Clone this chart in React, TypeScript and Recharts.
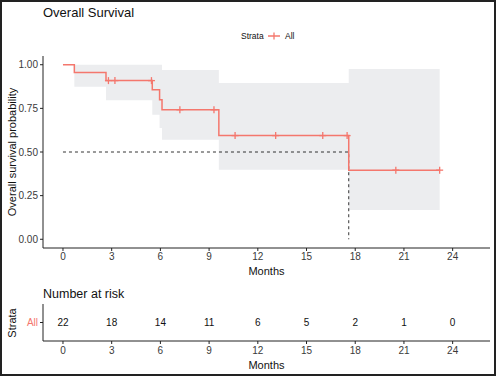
import React from 'react';
import { ComposedChart, Line, Area, Scatter, XAxis, YAxis } from 'recharts';

// Kaplan-Meier steps (months, survival)
const stepTimes = [0, 0.7, 2.65, 5.5, 5.95, 6.1, 9.6, 17.6, 23.2];
const survProb = [1, 0.955, 0.909, 0.857, 0.8, 0.742, 0.594, 0.396, 0.396];
const ciLower = [null, 0.874, 0.797, 0.713, 0.637, 0.57, 0.398, 0.168, 0.168];
const ciUpper = [null, 1, 1, 1, 1, 0.97, 0.895, 0.975, 0.975];
const censorTimes = [2.8, 3.2, 5.45, 7.2, 9.3, 10.6, 13.1, 16.0, 17.5, 20.5, 23.2];
const medianTime = 17.6;

const monthTicks = [0, 3, 6, 9, 12, 15, 18, 21, 24];
const riskCounts = [22, 18, 14, 11, 6, 5, 2, 1, 0];
const probTicks = [0, 0.25, 0.5, 0.75, 1];

const RED = '#F4776D';
const FONT = '"Liberation Sans", Arial, sans-serif';
const X_DOMAIN: [number, number] = [-1.23, 26.3];

const survAt = (t: number) => {
  let s = survProb[0];
  stepTimes.forEach((st, i) => {
    if (st <= t) s = survProb[i];
  });
  return s;
};

const curveData = stepTimes.map((t, i) => ({
  t,
  surv: survProb[i],
  ci: ciLower[i] == null ? null : [ciLower[i], ciUpper[i]],
}));
const censorData = censorTimes.map((t) => ({ t, surv: survAt(t) }));
const medianData = [
  { t: 0, m: 0.5 },
  { t: medianTime, m: 0.5 },
  { t: medianTime, m: 0 },
];
const riskData = monthTicks.map((t, i) => ({ t, row: 1, n: riskCounts[i] }));

const Plus = (props: any) => {
  const { cx, cy } = props;
  if (cx == null || cy == null) return null;
  return (
    <g stroke={RED} strokeWidth={1.3}>
      <line x1={cx - 3.5} x2={cx + 3.5} y1={cy} y2={cy} />
      <line x1={cx} x2={cx} y1={cy - 3.5} y2={cy + 3.5} />
    </g>
  );
};

const RiskText = (props: any) => {
  const { cx, cy, payload } = props;
  return (
    <text x={cx} y={cy} dy="0.35em" textAnchor="middle" fontSize={10} fill="#111" fontFamily={FONT}>
      {payload.n}
    </text>
  );
};

const tickStyle = { fontSize: 10, fill: '#3a3a3a', fontFamily: FONT };

export default function App() {
  return (
    <div style={{ position: 'absolute', left: 0, top: 0, width: 496, height: 376, background: '#fff' }}>
      <div style={{ position: 'absolute', left: 0, top: 0 }}>
        <ComposedChart width={496} height={280} data={curveData} margin={{ top: 56, right: 6, left: 0, bottom: 0 }}>
          <XAxis
            dataKey="t"
            type="number"
            domain={X_DOMAIN}
            ticks={monthTicks}
            allowDataOverflow
            height={32}
            stroke="#222"
            tickSize={3}
            tickMargin={2}
            tick={tickStyle}
          />
          <YAxis
            type="number"
            domain={[-0.05, 1.05]}
            ticks={probTicks}
            allowDataOverflow
            width={43}
            stroke="#222"
            tickSize={3}
            tickMargin={2}
            tick={tickStyle}
            tickFormatter={(v: number) => v.toFixed(2)}
          />
          <Area
            type="stepAfter"
            dataKey="ci"
            stroke="none"
            fill="#ECEDEF"
            fillOpacity={1}
            isAnimationActive={false}
          />
          <Line
            data={medianData}
            dataKey="m"
            type="linear"
            stroke="#000"
            strokeWidth={0.8}
            strokeDasharray="3 3"
            dot={false}
            activeDot={false}
            isAnimationActive={false}
          />
          <Line
            type="stepAfter"
            dataKey="surv"
            stroke={RED}
            strokeWidth={1.5}
            dot={false}
            activeDot={false}
            isAnimationActive={false}
          />
          <Scatter data={censorData} dataKey="surv" shape={<Plus />} isAnimationActive={false} />
        </ComposedChart>
      </div>

      <div style={{ position: 'absolute', left: 0, top: 296 }}>
        <ComposedChart width={496} height={80} data={riskData} margin={{ top: 8, right: 6, left: 0, bottom: 0 }}>
          <XAxis
            dataKey="t"
            type="number"
            domain={X_DOMAIN}
            ticks={monthTicks}
            allowDataOverflow
            height={35}
            stroke="#222"
            tickSize={3}
            tickMargin={3}
            tick={tickStyle}
          />
          <YAxis
            type="number"
            domain={[0, 2]}
            ticks={[1]}
            width={43}
            stroke="#222"
            tickSize={3}
            tickMargin={2}
            tick={{ ...tickStyle, fill: RED }}
            tickFormatter={() => 'All'}
          />
          <Scatter dataKey="row" shape={<RiskText />} isAnimationActive={false} />
        </ComposedChart>
      </div>

      <svg
        width={496}
        height={376}
        style={{ position: 'absolute', left: 0, top: 0, pointerEvents: 'none' }}
        fontFamily={FONT}
      >
        <text x={43} y={17} fontSize={13} fill="#111">Overall Survival</text>
        <text x={241} y={39} fontSize={8.5} fill="#111">Strata</text>
        <line x1={268} x2={280} y1={36} y2={36} stroke={RED} strokeWidth={1.5} />
        <line x1={274} x2={274} y1={32.5} y2={39.5} stroke={RED} strokeWidth={1.3} />
        <text x={285} y={39} fontSize={8.5} fill="#111">All</text>
        <text transform="translate(16,152) rotate(-90)" textAnchor="middle" fontSize={11} fill="#111">
          Overall survival probability
        </text>
        <text x={266.5} y={275} textAnchor="middle" fontSize={11} fill="#111">Months</text>
        <text x={43} y={297.5} fontSize={12.5} fill="#111">Number at risk</text>
        <text transform="translate(15.5,323) rotate(-90)" textAnchor="middle" fontSize={11} fill="#111">
          Strata
        </text>
        <text x={266.5} y={369} textAnchor="middle" fontSize={11} fill="#111">Months</text>
      </svg>

      <div
        style={{
          position: 'absolute',
          left: 0,
          top: 0,
          width: 496,
          height: 376,
          boxSizing: 'border-box',
          border: '2px solid #222',
          pointerEvents: 'none',
        }}
      />
    </div>
  );
}
